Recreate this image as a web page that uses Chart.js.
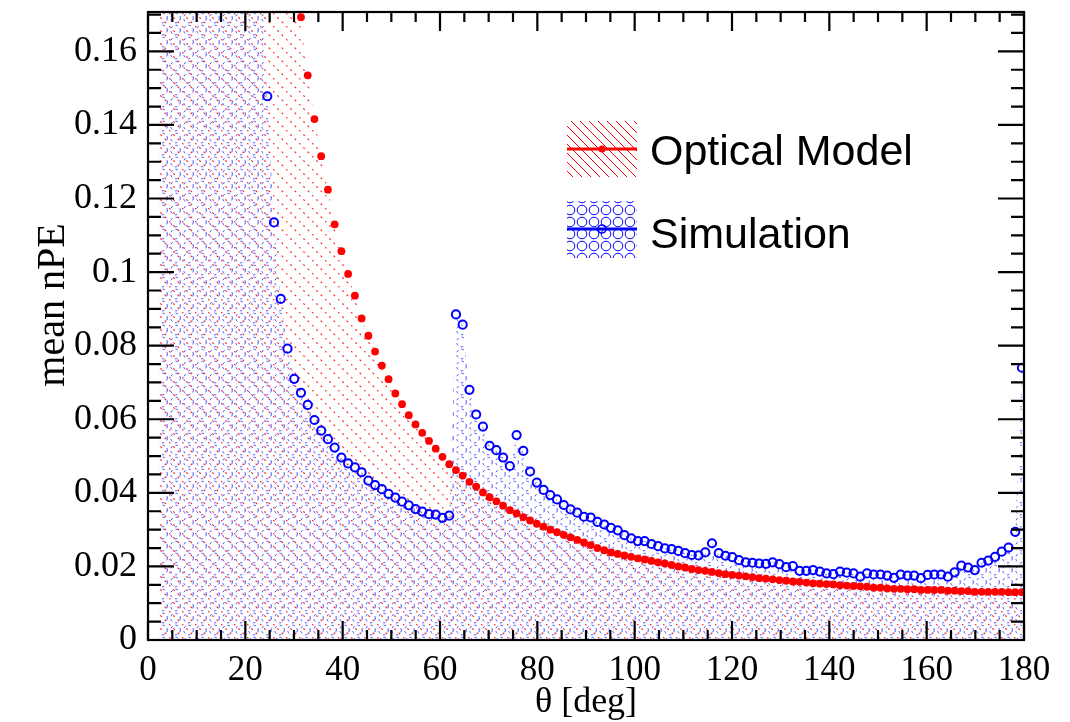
<!DOCTYPE html>
<html>
<head>
<meta charset="utf-8">
<script src="https://cdn.jsdelivr.net/npm/chart.js@4.4.1/dist/chart.umd.min.js"></script>
<style>
  body { margin: 0; background: #fff; }
  canvas { display: block; }
</style>
</head>
<body>
<canvas id="npeChart" width="1070" height="722"></canvas>
<script>
// bin centres in theta (deg)
const thetaDeg = [
  2.35, 3.74, 5.12, 6.51, 7.89, 9.28, 10.66, 12.05, 13.43, 14.82,
  16.20, 17.58, 18.97, 20.35, 21.74, 23.12, 24.51, 25.89, 27.28, 28.66,
  30.05, 31.43, 32.82, 34.20, 35.58, 36.97, 38.35, 39.74, 41.12, 42.51,
  43.89, 45.28, 46.66, 48.05, 49.43, 50.82, 52.20, 53.58, 54.97, 56.35,
  57.74, 59.12, 60.51, 61.89, 63.28, 64.66, 66.05, 67.43, 68.82, 70.20,
  71.58, 72.97, 74.35, 75.74, 77.12, 78.51, 79.89, 81.28, 82.66, 84.05,
  85.43, 86.82, 88.20, 89.58, 90.97, 92.35, 93.74, 95.12, 96.51, 97.89,
  99.28, 100.66, 102.05, 103.43, 104.82, 106.20, 107.58, 108.97, 110.35, 111.74,
  113.12, 114.51, 115.89, 117.28, 118.66, 120.05, 121.43, 122.82, 124.20, 125.58,
  126.97, 128.35, 129.74, 131.12, 132.51, 133.89, 135.28, 136.66, 138.05, 139.43,
  140.82, 142.20, 143.58, 144.97, 146.35, 147.74, 149.12, 150.51, 151.89, 153.28,
  154.66, 156.05, 157.43, 158.82, 160.20, 161.58, 162.97, 164.35, 165.74, 167.12,
  168.51, 169.89, 171.28, 172.66, 174.05, 175.43, 176.82, 178.20, 179.58
];

const opticalModel = [
  5.5, 4.0, 3.0, 2.3, 1.8, 1.45, 1.2, 1.0, 0.85, 0.73,
  0.63, 0.55, 0.48, 0.42, 0.37, 0.33, 0.29, 0.26, 0.232, 0.208,
  0.187, 0.1693, 0.1535, 0.1416, 0.1315, 0.1224, 0.1130, 0.1057, 0.0995, 0.0936,
  0.0874, 0.0827, 0.0784, 0.0746, 0.0709, 0.0670, 0.0641, 0.0611, 0.0586, 0.0563,
  0.0541, 0.0520, 0.0498, 0.0478, 0.0462, 0.0447, 0.0430, 0.0417, 0.0401, 0.0388,
  0.0377, 0.0365, 0.0353, 0.0344, 0.0334, 0.0325, 0.0316, 0.0308, 0.0300, 0.0293,
  0.0286, 0.0279, 0.0272, 0.0265, 0.0258, 0.0250, 0.0244, 0.0238, 0.0234, 0.0230,
  0.0226, 0.0222, 0.0219, 0.0215, 0.0211, 0.0208, 0.0204, 0.0200, 0.0197, 0.0193,
  0.0190, 0.0188, 0.0185, 0.0182, 0.0179, 0.0177, 0.0175, 0.0173, 0.0171, 0.0168,
  0.0167, 0.0165, 0.0163, 0.0161, 0.0159, 0.0158, 0.0156, 0.0154, 0.0153, 0.0152,
  0.0151, 0.0149, 0.0148, 0.0147, 0.0146, 0.0145, 0.0142, 0.0142, 0.0140, 0.0139,
  0.0139, 0.0138, 0.0138, 0.0136, 0.0136, 0.0136, 0.0136, 0.0134, 0.0134, 0.0133,
  0.0133, 0.0131, 0.0131, 0.0131, 0.0131, 0.0131, 0.0130, 0.0130, 0.0130
];

const simulation = [
  5.0, 4.0, 3.1, 2.5, 2.0, 1.6, 1.32, 1.08, 0.88, 0.72,
  0.58, 0.47, 0.38, 0.30, 0.24, 0.19, 0.1478, 0.1135, 0.0927, 0.0792,
  0.0710, 0.0672, 0.0639, 0.0598, 0.0569, 0.0546, 0.0523, 0.0496, 0.0480, 0.0469,
  0.0456, 0.0433, 0.0421, 0.0410, 0.0397, 0.0387, 0.0376, 0.0366, 0.0356, 0.0349,
  0.0342, 0.0341, 0.0332, 0.0338, 0.0885, 0.0857, 0.0680, 0.0613, 0.0580, 0.0528,
  0.0516, 0.0496, 0.0473, 0.0557, 0.0514, 0.0458, 0.0428, 0.0408, 0.0394, 0.0382,
  0.0367, 0.0355, 0.0346, 0.0335, 0.0333, 0.0321, 0.0314, 0.0305, 0.0298, 0.0285,
  0.0276, 0.0269, 0.0269, 0.0261, 0.0255, 0.0249, 0.0247, 0.0242, 0.0236, 0.0231,
  0.0230, 0.0238, 0.0263, 0.0236, 0.0229, 0.0225, 0.0217, 0.0211, 0.0210, 0.0208,
  0.0207, 0.0211, 0.0206, 0.0198, 0.0201, 0.0188, 0.0188, 0.0190, 0.0186, 0.0181,
  0.0179, 0.0186, 0.0183, 0.0181, 0.0172, 0.0181, 0.0178, 0.0178, 0.0175, 0.0169,
  0.0178, 0.0175, 0.0175, 0.0168, 0.0177, 0.0178, 0.0178, 0.0172, 0.0184, 0.0202,
  0.0197, 0.0190, 0.0210, 0.0216, 0.0226, 0.0240, 0.0251, 0.0294, 0.0740
];

const seriesNames = ['Optical Model', 'Simulation'];
const xTickLabels = ['0', '20', '40', '60', '80', '100', '120', '140', '160', '180'];
const yTickLabels = ['0', '0.02', '0.04', '0.06', '0.08', '0.1', '0.12', '0.14', '0.16'];

const canvas = document.getElementById('npeChart');
const ctx = canvas.getContext('2d');

// ROOT style fill patterns: red "\\\" hatch and blue circles
function redHatch(solid) {
  const t = document.createElement('canvas');
  t.width = solid ? 9 : 13; t.height = t.width;
  const g = t.getContext('2d');
  g.strokeStyle = solid ? 'rgb(255,0,0)' : 'rgba(255,20,20,0.9)';
  g.lineWidth = solid ? 1 : 1.2;
  if (!solid) g.setLineDash([2, 4.1]);
  g.beginPath(); g.moveTo(0, 0); g.lineTo(t.width, t.width); g.stroke();
  return ctx.createPattern(t, 'repeat');
}

function blueCircles(solid) {
  const t = document.createElement('canvas');
  t.width = solid ? 12 : 13; t.height = 12;
  const g = t.getContext('2d');
  g.strokeStyle = solid ? 'rgb(0,0,255)' : 'rgba(30,30,255,0.8)';
  g.lineWidth = 1;
  if (!solid) g.setLineDash([2.5, 3]);
  g.beginPath(); g.arc(t.width / 2, 6, 4.8, 0, Math.PI * 2); g.stroke();
  return ctx.createPattern(t, 'repeat');
}

const serif = "'Liberation Serif', 'Times New Roman', serif";
const sans = "'Liberation Sans', Arial, sans-serif";

const rootFrame = {
  id: 'rootFrame',
  afterDatasetsDraw(chart) {
    const { ctx: c, chartArea: a, scales } = chart;
    const xs = scales.x, ys = scales.y;
    c.save();
    c.strokeStyle = '#000';
    c.lineWidth = 2.2;
    c.strokeRect(a.left, a.top, a.right - a.left, a.bottom - a.top);
    c.beginPath();
    for (let v = 0; v <= 180; v += 5) {
      const px = xs.getPixelForValue(v);
      const len = v % 20 === 0 ? 19 : 10;
      c.moveTo(px, a.bottom); c.lineTo(px, a.bottom - len);
      c.moveTo(px, a.top); c.lineTo(px, a.top + len);
    }
    for (let i = 0; i <= 34; i++) {
      const v = i * 0.005;
      const py = ys.getPixelForValue(v);
      if (py < a.top) continue;
      const len = i % 4 === 0 ? 26 : 13;
      c.moveTo(a.left, py); c.lineTo(a.left + len, py);
      c.moveTo(a.right, py); c.lineTo(a.right - len, py);
    }
    c.stroke();
    c.restore();
  },
  afterDraw(chart) {
    const { ctx: c, chartArea: a } = chart;
    c.save();
    // axis titles
    c.fillStyle = '#000';
    c.font = '36px ' + serif;
    c.textAlign = 'center';
    c.textBaseline = 'alphabetic';
    c.fillText('θ [deg]', (a.left + a.right) / 2, 712);
    c.font = '40px ' + serif;
    c.translate(64, 305);
    c.rotate(-Math.PI / 2);
    c.fillText('mean nPE', 0, 0);
    c.restore();

    // legend
    c.save();
    const bx = 567, bw = 70;
    c.fillStyle = redHatch(true);
    c.fillRect(bx, 121, bw, 56);
    c.strokeStyle = 'red'; c.lineWidth = 3;
    c.beginPath(); c.moveTo(bx, 149); c.lineTo(bx + bw, 149); c.stroke();
    c.fillStyle = 'red';
    c.beginPath(); c.arc(bx + bw / 2, 149, 3.5, 0, Math.PI * 2); c.fill();

    c.fillStyle = blueCircles(true);
    c.fillRect(bx, 201, bw, 57);
    c.strokeStyle = 'blue'; c.lineWidth = 3;
    c.beginPath(); c.moveTo(bx, 229); c.lineTo(bx + bw, 229); c.stroke();
    c.lineWidth = 1.6;
    c.beginPath(); c.arc(bx + bw / 2, 229, 4, 0, Math.PI * 2); c.stroke();

    c.fillStyle = '#000';
    c.font = '43px ' + sans;
    c.textAlign = 'left';
    c.textBaseline = 'alphabetic';
    c.fillText(seriesNames[0], 650, 165);
    c.fillText(seriesNames[1], 650, 248);
    c.restore();
  }
};

new Chart(ctx, {
  type: 'line',
  data: {
    datasets: [
      {
        label: seriesNames[0],
        data: thetaDeg.map((t, i) => ({ x: t, y: opticalModel[i] })),
        showLine: false,
        borderWidth: 0,
        borderColor: 'red',
        backgroundColor: redHatch(false),
        fill: 'origin',
        pointRadius: 3.9,
        pointBorderWidth: 0,
        pointBackgroundColor: 'rgb(255,0,0)'
      },
      {
        label: seriesNames[1],
        data: thetaDeg.map((t, i) => ({ x: t, y: simulation[i] })),
        showLine: false,
        borderWidth: 0,
        borderColor: 'blue',
        backgroundColor: blueCircles(false),
        fill: 'origin',
        pointRadius: 4.1,
        pointBorderWidth: 2,
        pointBorderColor: 'rgb(0,0,255)',
        pointBackgroundColor: 'rgba(0,0,0,0)'
      }
    ]
  },
  options: {
    responsive: false,
    animation: false,
    devicePixelRatio: 1,
    layout: { padding: { left: 0, top: 12, right: 46, bottom: 0 } },
    plugins: {
      legend: { display: false },
      tooltip: { enabled: false },
      filler: { drawTime: 'beforeDatasetsDraw' }
    },
    scales: {
      x: {
        type: 'linear',
        min: 0,
        max: 180,
        grid: { display: false, drawTicks: false },
        border: { display: false },
        afterFit: s => { s.height = 82; s.paddingLeft = 0; s.paddingRight = 0; },
        afterBuildTicks: s => { s.ticks = xTickLabels.map(v => ({ value: Number(v) })); },
        ticks: {
          autoSkip: false,
          maxRotation: 0,
          padding: 10,
          color: '#000',
          font: { family: serif, size: 35 },
          callback: (v, i) => xTickLabels[i]
        }
      },
      y: {
        type: 'linear',
        min: 0,
        max: 0.1707,
        grid: { display: false, drawTicks: false },
        border: { display: false },
        afterFit: s => { s.width = 148; s.paddingTop = 0; s.paddingBottom = 0; },
        afterBuildTicks: s => { s.ticks = yTickLabels.map(v => ({ value: Number(v) })); },
        ticks: {
          autoSkip: false,
          padding: 11,
          color: '#000',
          font: { family: serif, size: 36 },
          callback: (v, i) => yTickLabels[i]
        }
      }
    }
  },
  plugins: [rootFrame]
});
</script>
</body>
</html>
